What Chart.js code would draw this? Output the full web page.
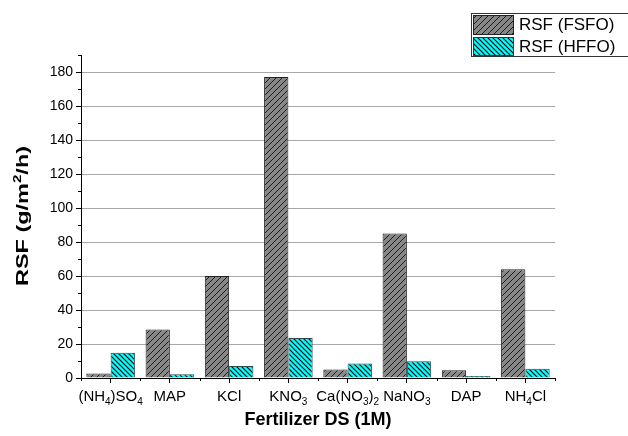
<!DOCTYPE html>
<html><head><meta charset="utf-8">
<script src="https://cdn.jsdelivr.net/npm/chart.js@4"></script>
<style>html,body{margin:0;padding:0;background:#fff}#wrap{width:628px;height:436px;position:relative}</style>
</head><body><div id="wrap"><canvas id="c" width="628" height="436"></canvas></div>
<script>
const categories = ['(NH₄)SO₄','MAP','KCl','KNO₃','Ca(NO₃)₂','NaNO₃','DAP','NH₄Cl'];
const fsfo = [2.6, 28.6, 60, 177, 5, 85, 4.5, 64];
const hffo = [14.8, 2.2, 7, 23.5, 8.5, 9.8, 1.2, 5.5];
const seriesNames = ['RSF (FSFO)', 'RSF (HFFO)'];
const xTitle = 'Fertilizer DS (1M)';
const yTitle = ['RSF (g/m', '2', '/h)'];
const yMajorTicks = [0, 20, 40, 60, 80, 100, 120, 140, 160, 180];
const yMinorTicks = [10, 30, 50, 70, 90, 110, 130, 150, 170, 190];

const FONT = '"Liberation Sans", Arial, sans-serif';
const SUB = { '₀':'0','₁':'1','₂':'2','₃':'3','₄':'4','₅':'5','₆':'6','₇':'7','₈':'8','₉':'9' };

function makePattern(bg, line, size, lw, dir) {
  const c = document.createElement('canvas');
  c.width = size; c.height = size;
  const g = c.getContext('2d');
  g.fillStyle = bg; g.fillRect(0, 0, size, size);
  g.strokeStyle = line; g.lineWidth = lw;
  g.beginPath();
  if (dir === '/') {
    g.moveTo(-1, size + 1); g.lineTo(size + 1, -1);
    g.moveTo(-1, 1); g.lineTo(1, -1);
    g.moveTo(size - 1, size + 1); g.lineTo(size + 1, size - 1);
  } else {
    g.moveTo(-1, -1); g.lineTo(size + 1, size + 1);
    g.moveTo(size - 1, -1); g.lineTo(size + 1, 1);
    g.moveTo(-1, size - 1); g.lineTo(1, size + 1);
  }
  g.stroke();
  return g.createPattern(c, 'repeat');
}
const ctx = document.getElementById('c').getContext('2d');
const grayPat = makePattern('#878787', '#1e1e1e', 6, 1, '/');
const cyanPat = makePattern('#00ffff', '#0a0a0a', 5, 1.2, '\\');

function splitSub(s) {
  const parts = [];
  for (const ch of s) {
    const sub = SUB[ch] !== undefined;
    const t = sub ? SUB[ch] : ch;
    if (parts.length && parts[parts.length - 1].sub === sub) parts[parts.length - 1].t += t;
    else parts.push({ t, sub });
  }
  return parts;
}

const extras = {
  id: 'extras',
  afterDraw(chart) {
    const c = chart.ctx;
    const y = chart.scales.y, x = chart.scales.x;
    c.save();
    c.strokeStyle = '#000'; c.lineWidth = 1;
    yMinorTicks.forEach(v => {
      const py = Math.round(y.getPixelForValue(v)) + 0.5;
      c.beginPath(); c.moveTo(x.left - 3, py); c.lineTo(x.left, py); c.stroke();
    });
    for (let i = 0; i <= categories.length; i++) {
      let px;
      if (i === 0) px = x.left; else if (i === categories.length) px = x.right;
      else px = (x.getPixelForValue(i - 1) + x.getPixelForValue(i)) / 2;
      px = Math.round(px) + 0.5;
      c.beginPath(); c.moveTo(px, y.bottom); c.lineTo(px, y.bottom + 3); c.stroke();
    }
    // x category labels with subscripts
    c.fillStyle = '#000';
    c.textBaseline = 'alphabetic';
    c.textAlign = 'left';
    const mainF = '15px ' + FONT, subF = '10px ' + FONT;
    categories.forEach((lab, i) => {
      const parts = splitSub(lab);
      let w = 0;
      parts.forEach(p => { c.font = p.sub ? subF : mainF; p.w = c.measureText(p.t).width; w += p.w; });
      let px = x.getPixelForValue(i) - w / 2;
      const base = 401;
      parts.forEach(p => {
        c.font = p.sub ? subF : mainF;
        c.fillText(p.t, px, p.sub ? base + 4 : base);
        px += p.w;
      });
    });
    // x title
    c.font = 'bold 18px ' + FONT;
    c.textAlign = 'center';
    c.fillText(xTitle, (x.left + x.right) / 2, 425);
    // y title (rotated, stretched along its length)
    c.save();
    c.translate(28, 216);
    c.rotate(-Math.PI / 2);
    c.scale(1.38, 1);
    c.textAlign = 'left';
    const mf = 'bold 17px ' + FONT, sf = 'bold 11px ' + FONT;
    c.font = mf; const w0 = c.measureText(yTitle[0]).width;
    c.font = sf; const w1 = c.measureText(yTitle[1]).width;
    c.font = mf; const w2 = c.measureText(yTitle[2]).width;
    let tx = -(w0 + w1 + w2) / 2;
    c.font = mf; c.fillText(yTitle[0], tx, 0); tx += w0;
    c.font = sf; c.fillText(yTitle[1], tx, -7); tx += w1;
    c.font = mf; c.fillText(yTitle[2], tx, 0);
    c.restore();
    // legend
    const lx = 471, ly = 13, lw = 160, lh = 43;
    c.fillStyle = '#fff';
    c.fillRect(lx, ly, lw, lh);
    c.strokeStyle = '#333';
    c.strokeRect(lx + 0.5, ly + 0.5, lw, lh);
    const items = [
      { pat: grayPat, border: '#222', y: 15, h: 19, label: seriesNames[0] },
      { pat: cyanPat, border: '#333', y: 37, h: 18, label: seriesNames[1] }
    ];
    c.font = '17px ' + FONT;
    c.textBaseline = 'middle';
    c.textAlign = 'left';
    items.forEach(it => {
      c.fillStyle = it.pat;
      c.fillRect(473, it.y, 40, it.h);
      c.strokeStyle = it.border; c.lineWidth = 1;
      c.strokeRect(473.5, it.y + 0.5, 40, it.h);
      c.fillStyle = '#000';
      c.fillText(it.label, 519, it.y + it.h / 2 + 1);
    });
    c.restore();
  }
};

new Chart(ctx, {
  type: 'bar',
  data: {
    labels: categories,
    datasets: [
      { label: seriesNames[0], data: fsfo, backgroundColor: grayPat, borderColor: '#222', borderWidth: 1, categoryPercentage: 0.82, barPercentage: 1 },
      { label: seriesNames[1], data: hffo, backgroundColor: cyanPat, borderColor: '#2a4a4a', borderWidth: 1, categoryPercentage: 0.82, barPercentage: 1 }
    ]
  },
  options: {
    responsive: false,
    animation: false,
    devicePixelRatio: 1,
    layout: { padding: { top: 55, right: 73, left: 0, bottom: 0 } },
    plugins: { legend: { display: false }, tooltip: { enabled: false } },
    scales: {
      x: {
        afterFit: s => { s.height = 58; },
        grid: { offset: false, drawOnChartArea: false, tickLength: 5, tickColor: '#000' },
        border: { color: '#000', width: 1 },
        ticks: { color: 'rgba(0,0,0,0)', padding: 5, maxRotation: 0, autoSkip: false, font: { family: FONT, size: 15 } }
      },
      y: {
        min: 0, max: 190,
        afterFit: s => { s.width = 81; },
        afterBuildTicks: s => { s.ticks = yMajorTicks.map(v => ({ value: v })); },
        grid: { color: c2 => c2.tick && c2.tick.value === 0 ? 'rgba(0,0,0,0)' : '#a8a8a8', tickColor: '#000', tickLength: 5, lineWidth: 1 },
        border: { color: '#000', width: 1 },
        ticks: { color: '#000', padding: 3, font: { family: FONT, size: 14 } }
      }
    }
  },
  plugins: [extras]
});
</script>
</body></html>
